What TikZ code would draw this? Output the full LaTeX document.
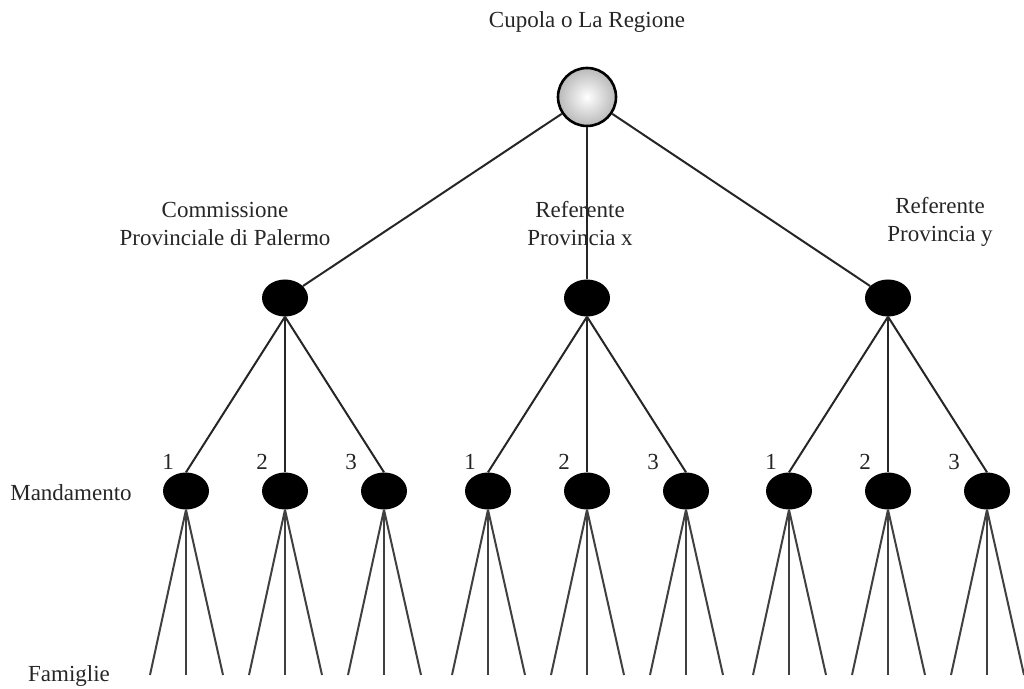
\documentclass[tikz,border=0pt]{standalone}
\usepackage{fontspec}
\setmainfont{Liberation Serif}
\usepackage{tikz}
\usetikzlibrary{shapes.geometric,calc,positioning}

\begin{document}
\begin{tikzpicture}[x=1pt,y=1pt,
  every node/.style={font=\fontsize{23}{28}\selectfont,text=black!85},
  cupola/.style={circle,draw=black,line width=2.6pt,shading=radial,inner color=white,outer color=gray!55,minimum size=58pt,inner sep=0pt},
  boss/.style={ellipse,fill=black,minimum width=46pt,minimum height=37pt,inner sep=0pt},
  link/.style={line width=2pt,black!85},
  famiglia/.style={line width=2pt,black!75}]
  \useasboundingbox (0,0) rectangle (1024,688);
  %the top of the tree (the regional level)
  \node [cupola] at (587,591) (c) {};
  \node at ($(c) + (0,75)$) (ct) {Cupola o La Regione};
  %provincial vertices
  \node [boss] at ($(c) + (-302,-201)$) (p1) {};
  \node [boss] at ($(c) + (0,-201)$) (p2) {};
  \node [boss] at ($(c) + (301,-201)$) (p3) {};
  \node at ($(p1) + (-60,74)$) (l1) [align=center] {Commissione\\Provinciale di Palermo};
  \node at ($(p2) + (-7,74)$) (l2) [align=center] {Referente\\Provincia x};
  \node at ($(p3) + (52,76)$) (l3) [align=center] {Referente\\Provincia y};
  %mandamenti, three under every province
  \foreach \p in {1,2,3}{
    \node [boss] at ($(p\p) + (-99,-193)$) (m\p1) {};
    \node [boss] at ($(p\p) + (0,-193)$) (m\p2) {};
    \node [boss] at ($(p\p) + (99,-193)$) (m\p3) {};
    %numbers next to the mandamenti
    \node at ($(m\p1) + (-18,29)$) (n\p1) {1};
    \node at ($(m\p2) + (-23,29)$) (n\p2) {2};
    \node at ($(m\p3) + (-33,29)$) (n\p3) {3};
  }
  %names of the levels
  \node at (71,195) (mand) {Mandamento};
  \node at (69,12) (fam) {Famiglie};
  %lines from the cupola to the provinces
  \draw [link] (c) -- (p1);
  \draw [link] (c) -- (p2);
  \draw [link] (c) -- (p3);
  %lines from provinces to mandamenti, then the famiglie
  \foreach \p in {1,2,3}{
    \foreach \m in {1,2,3}{
      \draw [link] (p\p.south) -- (m\p\m.north);
      %free ends of the famiglie
      \coordinate (f\p\m a) at ($(m\p\m) + (-36,-184)$);
      \coordinate (f\p\m b) at ($(m\p\m) + (0,-184)$);
      \coordinate (f\p\m c) at ($(m\p\m) + (37,-184)$);
      \draw [famiglia] (m\p\m.south) -- (f\p\m a);
      \draw [famiglia] (m\p\m.south) -- (f\p\m b);
      \draw [famiglia] (m\p\m.south) -- (f\p\m c);
    }
  }
\end{tikzpicture}
\end{document}
